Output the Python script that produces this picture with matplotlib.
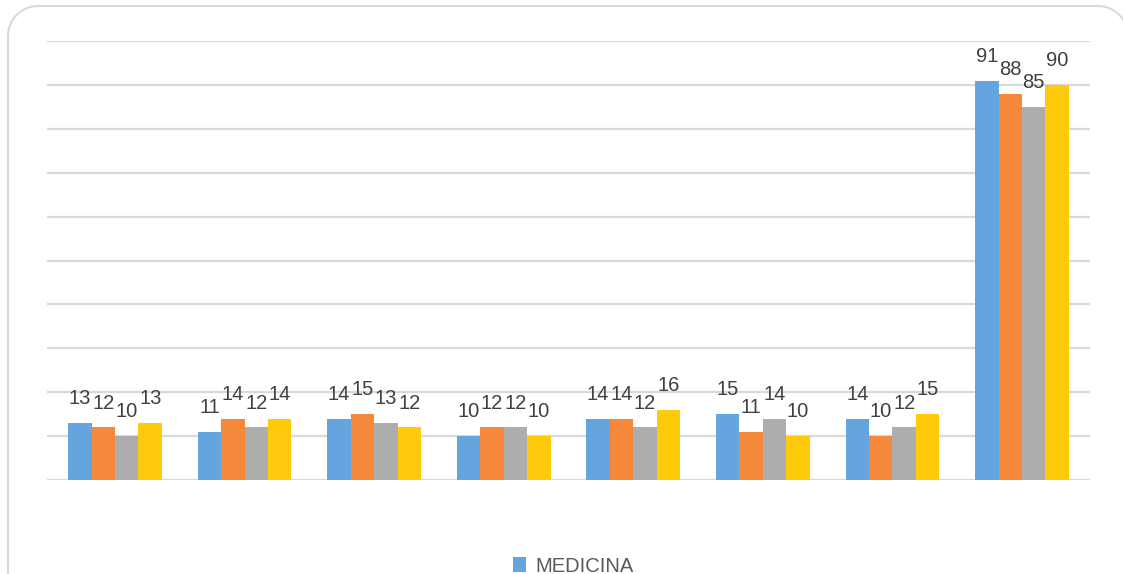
import matplotlib
matplotlib.use("Agg")
import matplotlib.pyplot as plt
from matplotlib.patches import PathPatch
from matplotlib.path import Path
import numpy as np

categories = ["G1", "G2", "G3", "G4", "G5", "G6", "G7", "G8"]
series_names = ["MEDICINA", "S2", "S3", "S4"]
s1 = [13, 11, 14, 10, 14, 15, 14, 91]
s2 = [12, 14, 15, 12, 14, 11, 10, 88]
s3 = [10, 12, 13, 12, 12, 14, 12, 85]
s4 = [13, 14, 12, 10, 16, 10, 15, 90]
colors = ["#65a5df", "#f5883b", "#adadad", "#ffc90c"]

lab_font = ["Liberation Sans", "DejaVu Sans"]

fig = plt.figure(figsize=(11.23, 5.74), dpi=100)
W, H = 1123, 574
ax = fig.add_axes([47 / W, 94 / H, (1090 - 47) / W, (480 - 41) / H])

# rounded chart-area border, built in pixel space (inches * 100)
L, R, T, B, r = 8.0, 1128.0, 568.0, -20.0, 30.0
t1 = np.linspace(np.pi, np.pi / 2, 20)
t2 = np.linspace(np.pi / 2, 0, 20)
pts = [(L, B), (L, T - r)]
pts += [(L + r + r * np.cos(t), T - r + r * np.sin(t)) for t in t1]
pts += [(R - r + r * np.cos(t), T - r + r * np.sin(t)) for t in t2]
pts += [(R, B)]
pts = np.array(pts) / 100.0
border = PathPatch(Path(pts), transform=fig.dpi_scale_trans, facecolor="none",
                   edgecolor="#d9d9d9", linewidth=1.5)
fig.patches.append(border)

x = np.arange(len(categories))
bw = 0.181
series = [s1, s2, s3, s4]
containers = []
for i, (vals, c) in enumerate(zip(series, colors)):
    bars = ax.bar(x + (i - 1.5) * bw, vals, bw, color=c, zorder=3)
    containers.append(bars)
    for xi, v in zip(x + (i - 1.5) * bw, vals):
        ax.annotate(str(v), (xi, v), xytext=(0, 17.5), textcoords="offset points",
                    ha="center", va="center", fontsize=14.5, color="#404040",
                    family=lab_font)

ax.set_xlim(-0.525, len(categories) - 0.475)
ax.set_ylim(0, 100)
ax.set_yticks(np.arange(0, 101, 10))
ax.yaxis.grid(True, color="#d9d9d9", linewidth=1.6, zorder=0)
ax.set_axisbelow(True)
ax.tick_params(left=False, bottom=False, labelleft=False, labelbottom=False)
for sp in ax.spines.values():
    sp.set_visible(False)

fig.legend(handles=[containers[0]], labels=[series_names[0]], loc="center",
           bbox_to_anchor=(573 / W, 1 - 566 / H), frameon=False,
           prop={"family": ["Liberation Sans", "DejaVu Sans"], "size": 14.5},
           handlelength=0.65, handleheight=0.75, handletextpad=0.45,
           labelcolor="#595959")

fig.savefig("out.png", dpi=100)
